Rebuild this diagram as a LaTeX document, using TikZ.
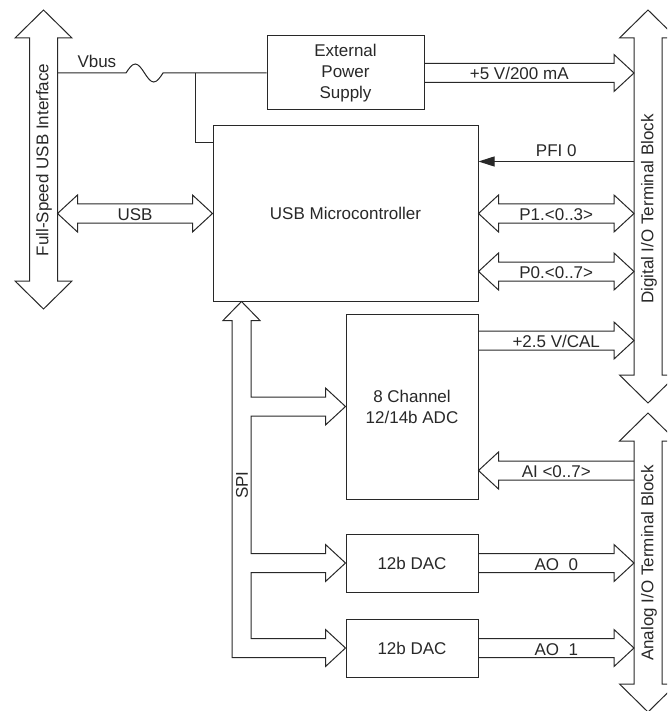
\documentclass[tikz,border=0pt]{standalone}
\usepackage{fontspec}
\setmainfont{Liberation Sans}
\usetikzlibrary{positioning,calc,arrows.meta}
\definecolor{inkgray}{RGB}{40,40,40}

% bus arrow sizes
\def\sw{9.5pt}
\def\hw{18.5pt}
\def\hl{20pt}

% single bus arrow, pointing right
\newcommand{\busright}[5][]{%
  \draw[bus] let \p1=(#2), \p2=(#3) in
    (\x1,\y1+\sw) -- (\x2-\hl,\y1+\sw) -- (\x2-\hl,\y1+\hw) -- (\x2,\y1)
    -- (\x2-\hl,\y1-\hw) -- (\x2-\hl,\y1-\sw) -- (\x1,\y1-\sw)
    node[buslabel,#1,name=#4] at ($(\x1,\y1)!0.5!(\x2,\y1)$) {#5};}
% single bus arrow, pointing left
\newcommand{\busleft}[5][]{%
  \draw[bus] let \p1=(#2), \p2=(#3) in
    (\x1,\y1+\sw) -- (\x2+\hl,\y1+\sw) -- (\x2+\hl,\y1+\hw) -- (\x2,\y1)
    -- (\x2+\hl,\y1-\hw) -- (\x2+\hl,\y1-\sw) -- (\x1,\y1-\sw)
    node[buslabel,#1,name=#4] at ($(\x1,\y1)!0.5!(\x2,\y1)$) {#5};}
% double bus arrow
\newcommand{\busboth}[5][]{%
  \draw[bus] let \p1=(#2), \p2=(#3) in
    (\x1,\y1) -- (\x1+\hl,\y1+\hw) -- (\x1+\hl,\y1+\sw) -- (\x2-\hl,\y1+\sw)
    -- (\x2-\hl,\y1+\hw) -- (\x2,\y1) -- (\x2-\hl,\y1-\hw) -- (\x2-\hl,\y1-\sw)
    -- (\x1+\hl,\y1-\sw) -- (\x1+\hl,\y1-\hw) -- cycle
    node[buslabel,#1,name=#4] at ($(\x1,\y1)!0.5!(\x2,\y1)$) {#5};}

\tikzset{
  bus/.style={draw=inkgray,line width=1pt,line join=miter},
  box/.style={draw=inkgray,line width=1pt,inner sep=0pt,align=center},
  buslabel/.style={anchor=base,yshift=-7pt,inner sep=0pt}
}

\begin{document}
\begin{tikzpicture}[x=1pt,y=-1pt,line width=1pt,draw=inkgray,
  every node/.style={font=\fontsize{17}{21}\selectfont,text=inkgray}]
  \useasboundingbox (0,0) rectangle (667,711);
  \clip (0,0) rectangle (667,711);

  % blocks
  \node[box,minimum width=157pt,minimum height=74pt] (eps) at (345.5,73) {External\\Power\\Supply};
  \node[box,minimum width=265pt,minimum height=175pt] (mcu) at (345.5,213.5) {USB Microcontroller};
  \node[box,minimum width=132pt,minimum height=185pt] (adc) at (412,406.5) {8 Channel\\12/14b ADC};
  \node[box,minimum width=132pt,minimum height=58pt] (dac1) at (412,563) {12b DAC};
  \node[box,minimum width=132pt,minimum height=58pt] (dac2) at (412,648) {12b DAC};

  % terminal blocks
  \foreach \cx/\ya/\yb in {43.5/10/309, 648/10/403, 648/413/712}{
    \draw[bus] (\cx,\ya) -- (\cx+28.5,\ya+28) -- (\cx+14,\ya+28) -- (\cx+14,\yb-28)
      -- (\cx+28.5,\yb-28) -- (\cx,\yb) -- (\cx-28.5,\yb-28) -- (\cx-14,\yb-28)
      -- (\cx-14,\ya+28) -- (\cx-28.5,\ya+28) -- cycle;
  }
  \node[rotate=90] (usblbl) at (44,160) {Full-Speed USB Interface};
  \node[rotate=90] (diolbl) at (649,209) {Digital I/O Terminal Block};
  \node[rotate=90] (aiolbl) at (649,563) {Analog I/O Terminal Block};
  \coordinate (usbR) at (57.5,0);
  \coordinate (dio) at (634,0);

  % Vbus with fuse
  \coordinate (vb) at (57.5,73);
  \coordinate (vbtap) at (195,73);
  \coordinate (mcupwr) at ($(mcu.north west)+(0,17)$);
  \draw (vb) -- (126,73) sin (135.25,64) cos (144.5,73) sin (153.75,82) cos (163,73) -- (eps.west);
  \draw (vbtap) |- (mcupwr);
  \node[anchor=base west,inner sep=0pt] (vbus) at (77,68) {Vbus};

  % buses
  \busboth{usbR |- mcu.west}{mcu.west}{lusb}{USB}
  \busright[xshift=-10pt]{eps.east}{eps.east -| dio}{l5v}{+5 V/200 mA}
  \coordinate (pfi) at ($(mcu.north east)+(0,36)$);
  \draw[-{Triangle[length=16pt,width=10pt]}] (pfi -| dio) -- (pfi)
    node[pos=0.5,anchor=base,yshift=5pt,inner sep=0pt] (lpfi) {PFI 0};
  \busboth{mcu.east}{mcu.east -| dio}{lp1}{P1.<0..3>}
  \coordinate (p0) at ($(mcu.south east)+(0,-30)$);
  \busboth{p0}{p0 -| dio}{lp0}{P0.<0..7>}
  \coordinate (cal) at ($(adc.north east)+(0,27)$);
  \busright{cal}{cal -| dio}{lcal}{+2.5 V/CAL}
  \coordinate (ai) at ($(adc.south east)+(0,-29)$);
  \busleft{ai -| dio}{ai}{lai}{AI <0..7>}
  \busright{dac1.east}{dac1.east -| dio}{lao0}{AO\ \ 0}
  \busright{dac2.east}{dac2.east -| dio}{lao1}{AO\ \ 1}

  % SPI bus
  \coordinate (spi) at ($(mcu.south west)+(29,0)$);
  \draw[bus] let \p0=(spi), \p1=(adc.west), \p2=(dac1.west), \p3=(dac2.west) in
    (\x0-\sw,\y3-\sw) -- (\x0-\sw,\y0-19pt) -- (\x0-\hw,\y0-19pt) -- (\x0,\y0)
    -- (\x0+\hw,\y0-19pt) -- (\x0+\sw,\y0-19pt)
    -- (\x0+\sw,\y1+\sw) -- (\x1-\hl,\y1+\sw) -- (\x1-\hl,\y1+\hw) -- (\x1,\y1)
    -- (\x1-\hl,\y1-\hw) -- (\x1-\hl,\y1-\sw) -- (\x0+\sw,\y1-\sw)
    -- (\x0+\sw,\y2+\sw) -- (\x2-\hl,\y2+\sw) -- (\x2-\hl,\y2+\hw) -- (\x2,\y2)
    -- (\x2-\hl,\y2-\hw) -- (\x2-\hl,\y2-\sw) -- (\x0+\sw,\y2-\sw)
    -- (\x0+\sw,\y3+\sw) -- (\x3-\hl,\y3+\sw) -- (\x3-\hl,\y3+\hw) -- (\x3,\y3)
    -- (\x3-\hl,\y3-\hw) -- (\x3-\hl,\y3-\sw) -- cycle;
  \node[rotate=90] (spilbl) at (242,485) {SPI};
\end{tikzpicture}
\end{document}
